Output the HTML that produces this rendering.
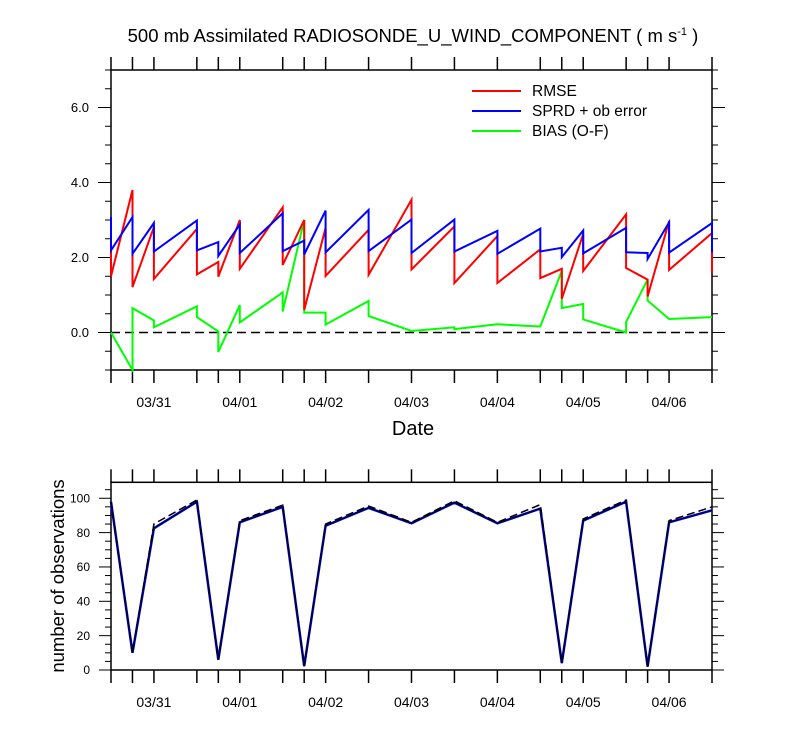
<!DOCTYPE html>
<html><head><meta charset="utf-8">
<style>
html,body{margin:0;padding:0;background:#fff;}
svg{display:block;font-family:"Liberation Sans",Arial,sans-serif;}
</style></head>
<body>
<svg id="chart" width="800" height="750" viewBox="0 0 800 750" xmlns="http://www.w3.org/2000/svg">
<text x="413" y="42" text-anchor="middle" font-size="18.5">500 mb Assimilated RADIOSONDE_U_WIND_COMPONENT ( m s<tspan dy="-7" font-size="11">-1</tspan><tspan dy="7"> )</tspan></text>
<g id="topPanel"></g>
<g id="botPanel"></g>
<text x="413" y="435" text-anchor="middle" font-size="20">Date</text>
<text transform="translate(64,576) rotate(-90)" text-anchor="middle" font-size="18.5">number of observations</text>
<g>
  <line x1="472" y1="91" x2="521" y2="91" stroke="#ff0000" stroke-width="2"/>
  <text x="532" y="96" font-size="15.5">RMSE</text>
  <line x1="472" y1="111" x2="521" y2="111" stroke="#0000ff" stroke-width="2"/>
  <text x="532" y="116" font-size="15.5">SPRD + ob error</text>
  <line x1="472" y1="131" x2="521" y2="131" stroke="#00ff00" stroke-width="2"/>
  <text x="532" y="136" font-size="15.5">BIAS (O-F)</text>
</g>
</svg>
<script>
// time index in 6-hour steps from start
const steps = [0,1,2,4,5,6,8,9,10,12,14,16,18,20,21,22,24,25,26,28];
const rmseF = [2.8,3.80,2.81,2.76,1.88,3.0,3.34,3.0,2.79,2.74,3.54,2.83,2.57,2.22,1.70,2.63,3.15,1.41,2.97,2.65];
const rmseA = [1.5,1.21,1.43,1.55,1.49,1.70,1.80,0.60,1.51,1.54,1.68,1.32,1.32,1.45,0.90,1.64,1.72,0.96,1.67,1.60];
const sprdF = [3.08,3.08,2.92,2.99,2.41,2.88,3.18,2.45,3.25,3.27,3.01,3.01,2.71,2.77,2.26,2.72,2.79,2.12,2.94,2.92];
const sprdA = [2.19,2.10,2.16,2.19,2.04,2.12,2.17,2.08,2.14,2.17,2.12,2.16,2.10,2.16,2.01,2.11,2.14,1.96,2.13,2.13];
const biasF = [0.0,-1.0,0.32,0.70,0.03,0.73,1.07,3.0,0.53,0.84,0.04,0.14,0.22,0.16,1.64,0.76,0.0,1.41,0.36,0.41];
const biasA = [0.0,0.65,0.14,0.41,-0.52,0.27,0.56,0.53,0.21,0.44,0.04,0.09,0.22,0.16,0.65,0.35,0.28,0.85,0.36,0.41];
const obsUsed = [98,10,82.5,98,6,86,95,2.3,84,94.4,85.4,97.5,85.4,94,4,87,98,2,86,93];
const obsPossible = [98,10,85,99,6,87,96,2.3,85,95.5,86,98.5,86,96.3,4,88,99,2,87,95];
const dateLabels = ["03/31","04/01","04/02","04/03","04/04","04/05","04/06"];
const dateSteps = [2,6,10,14,18,22,26];
const topTicks = ["0.0","2.0","4.0","6.0"];
const botTicks = ["0","20","40","60","80","100"];

const NS="http://www.w3.org/2000/svg";
const X0=111, X1=712, NSTEP=28;
const xs = s => X0 + s*(X1-X0)/NSTEP;
const T={top:70,bot:370,min:-1,max:7};
const B={top:482.3,bot:670,min:0,max:109.3};
const yT = v => T.bot - (v-T.min)*(T.bot-T.top)/(T.max-T.min);
const yB = v => B.bot - (v-B.min)*(B.bot-B.top)/(B.max-B.min);
function mk(tag,attrs,parent){const e=document.createElementNS(NS,tag);for(const k in attrs)e.setAttribute(k,attrs[k]);parent.appendChild(e);return e;}
const topG=document.getElementById('topPanel'), botG=document.getElementById('botPanel');

function frame(g,P,yf,majors,minorStep,majorLen,minorLen,labels,fs,nameP){
  const r=mk('rect',{x:X0,y:P.top,width:X1-X0,height:P.bot-P.top,fill:'none',stroke:'#000','stroke-width':1.5},g);
  
  
  steps.forEach(s=>{
    const x=xs(s);
    const a=mk('line',{x1:x,y1:P.bot,x2:x,y2:P.bot+13,stroke:'#000','stroke-width':1.5},g);
    
    
    const b=mk('line',{x1:x,y1:P.top,x2:x,y2:P.top-13,stroke:'#000','stroke-width':1.5},g);
    
    
  });
  for(let v=P.min; v<=P.max+1e-6; v+=minorStep){
    const y=yf(v);
    const isMaj=majors.some(m=>Math.abs(m-v)<1e-6);
    const L=isMaj?majorLen:minorLen;
    const a=mk('line',{x1:X0-L,y1:y,x2:X0,y2:y,stroke:'#000','stroke-width':1},g);
    
    
    const b=mk('line',{x1:X1,y1:y,x2:X1+L,y2:y,stroke:'#000','stroke-width':1},g);
    
    
  }
  labels.forEach(l=>{
    const t=mk('text',{x:X0-majorLen-9,y:yf(parseFloat(l))+fs*0.35,'text-anchor':'end','font-size':fs},g);
    t.textContent=l;
    
    
  });
  dateLabels.forEach((d,i)=>{
    const t=mk('text',{x:xs(dateSteps[i]),y:P.bot+37,'text-anchor':'middle','font-size':14},g);
    t.textContent=d;
    
    
  });
}
frame(topG,T,yT,[0,2,4,6],0.5,13,6,topTicks,13,'error');
frame(botG,B,yB,[0,20,40,60,80,100],5,12,6,botTicks,12,'obs');

const z=mk('line',{x1:X0,y1:yT(0),x2:X1,y2:yT(0),stroke:'#000','stroke-width':1.5,'stroke-dasharray':'9,5'},topG);



function saw(f,a,color,name){
  let d='';
  steps.forEach((s,i)=>{
    const x=xs(s).toFixed(1);
    d+=(i===0?'M':'L')+x+','+yT(f[i]).toFixed(1)+'L'+x+','+yT(a[i]).toFixed(1);
  });
  const p=mk('path',{d:d,fill:'none',stroke:color,'stroke-width':2,'stroke-linejoin':'miter'},topG);
  
  
}
saw(biasF,biasA,'#00ff00','bias-line');
saw(rmseF,rmseA,'#ff0000','rmse-line');
saw(sprdF,sprdA,'#0000ff','sprd-line');

function line(vals,attrs,name){
  const d=steps.map((s,i)=>(i?'L':'M')+xs(s).toFixed(1)+','+yB(vals[i]).toFixed(1)).join('');
  attrs.d=d;attrs.fill='none';
  const p=mk('path',attrs,botG);
  
  
}
line(obsUsed,{stroke:'#0000ff','stroke-width':2.5},'obs-used-line');
line(obsUsed,{stroke:'#000','stroke-width':1},'obs-used-core-line');
line(obsPossible,{stroke:'#000','stroke-width':1.5,'stroke-dasharray':'8,4'},'obs-possible-line');
</script>
</body></html>
